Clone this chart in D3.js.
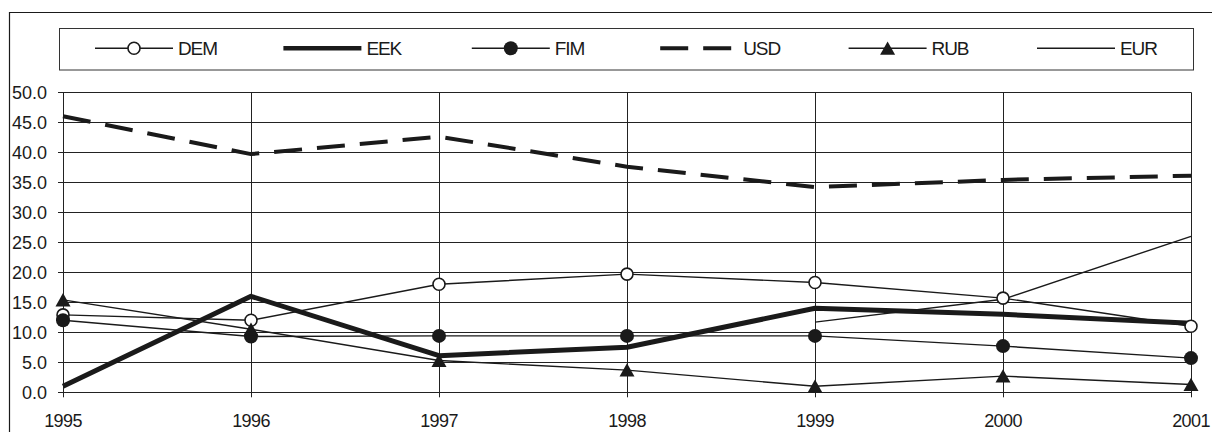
<!DOCTYPE html>
<html>
<head>
<meta charset="utf-8">
<script src="https://cdn.jsdelivr.net/npm/d3@7"></script>
<style>
  html, body { margin: 0; padding: 0; background: #fff; }
  svg { display: block; }
  text { font-family: "Liberation Sans", Arial, sans-serif; fill: #1a1a1a; }
</style>
</head>
<body>
<svg id="chart" width="1212" height="432"></svg>
<script>
// ---- data ----
const years = [1995, 1996, 1997, 1998, 1999, 2000, 2001];
const DEM = [12.9, 12.0, 18.0, 19.7, 18.3, 15.7, 11.0];
const EEK = [1.0, 16.0, 6.1, 7.5, 14.0, 13.0, 11.5];
const FIM = [12.0, 9.3, 9.4, 9.4, 9.4, 7.7, 5.7];
const USD = [46.0, 39.7, 42.6, 37.6, 34.2, 35.4, 36.1];
const RUB = [15.4, 10.5, 5.3, 3.7, 1.0, 2.7, 1.3];
const EUR = [null, null, null, null, 11.7, 15.5, 26.0];
const yTicks = [0, 5, 10, 15, 20, 25, 30, 35, 40, 45, 50];
const seriesNames = ["DEM", "EEK", "FIM", "USD", "RUB", "EUR"];

const seriesValues = { DEM, EEK, FIM, USD, RUB, EUR };
const style = {
  DEM: { width: 1.4, dash: null, marker: "open" },
  EEK: { width: 5, dash: null, marker: null },
  FIM: { width: 1.4, dash: null, marker: "filled" },
  USD: { width: 4, dash: "28,15", marker: null },
  RUB: { width: 1.4, dash: null, marker: "tri" },
  EUR: { width: 1.4, dash: null, marker: null }
};

const ink = "#1a1a1a";
const svg = d3.select("#chart");

// outer frame
svg.append("path").attr("d", "M9.5,432 V12.5 H1212").attr("fill", "none").attr("stroke", ink).attr("stroke-width", 1.2);

const x = d3.scalePoint().domain(years).range([63, 1191]);
const y = d3.scaleLinear().domain([0, 50]).range([392.3, 92.3]);

const g = svg.append("g");

// horizontal gridlines
g.selectAll("line.hg").data(yTicks).join("line")
  .attr("x1", 58).attr("x2", x(2001))
  .attr("y1", d => Math.round(y(d)) + 0.5).attr("y2", d => Math.round(y(d)) + 0.5)
  .attr("stroke", "#222").attr("stroke-width", 1);

// vertical gridlines + ticks
g.selectAll("line.vg").data(years).join("line")
  .attr("x1", d => Math.round(x(d)) + 0.5).attr("x2", d => Math.round(x(d)) + 0.5)
  .attr("y1", y(50)).attr("y2", y(0) + 5)
  .attr("stroke", "#222").attr("stroke-width", 1);

// y labels
g.selectAll("text.yl").data(yTicks).join("text")
  .attr("x", 47).attr("y", d => y(d) + 6.5)
  .attr("text-anchor", "end").attr("font-size", 18)
  .text(d => d3.format(".1f")(d));

// x labels
g.selectAll("text.xl").data(years).join("text")
  .attr("x", d => x(d)).attr("y", 426.5)
  .attr("text-anchor", "middle").attr("font-size", 18).attr("letter-spacing", -0.6)
  .text(d => d);

// lines
const line = d3.line()
  .defined(d => d.v !== null)
  .x(d => x(d.year)).y(d => y(d.v));

seriesNames.forEach(name => {
  const pts = years.map((yr, i) => ({ year: yr, v: seriesValues[name][i] }));
  const st = style[name];
  g.append("path").datum(pts)
    .attr("d", line)
    .attr("fill", "none").attr("stroke", ink)
    .attr("stroke-width", st.width)
    .attr("stroke-linejoin", "round")
    .attr("stroke-dasharray", st.dash);
});

function triPath(cx, cy) {
  return `M${cx},${cy - 6.8} L${cx + 7.5},${cy + 6.5} L${cx - 7.5},${cy + 6.5} Z`;
}
function drawMarker(sel, type, cx, cy) {
  if (type === "open") {
    sel.append("circle").attr("cx", cx).attr("cy", cy).attr("r", 6)
      .attr("fill", "#fff").attr("stroke", ink).attr("stroke-width", 1.6);
  } else if (type === "filled") {
    sel.append("circle").attr("cx", cx).attr("cy", cy).attr("r", 7)
      .attr("fill", ink);
  } else if (type === "tri") {
    sel.append("path").attr("d", triPath(cx, cy)).attr("fill", ink);
  }
}

// markers on top
seriesNames.forEach(name => {
  const st = style[name];
  if (!st.marker) return;
  years.forEach((yr, i) => {
    const v = seriesValues[name][i];
    if (v === null) return;
    drawMarker(g, st.marker, x(yr), y(v));
  });
});

// legend
const lg = svg.append("g");
lg.append("rect").attr("x", 59.5).attr("y", 28.5).attr("width", 1134).attr("height", 41.5)
  .attr("fill", "#fff").attr("stroke", "#333").attr("stroke-width", 1);

const legendX = d3.scalePoint().domain(seriesNames).range([95, 1037]);
const ly = 48.3;
seriesNames.forEach(name => {
  const st = style[name];
  const x0 = legendX(name);
  lg.append("line").attr("x1", x0).attr("x2", x0 + 78).attr("y1", ly).attr("y2", ly)
    .attr("stroke", ink).attr("stroke-width", name === "EEK" ? 4.5 : st.width)
    .attr("stroke-dasharray", st.dash);
  if (st.marker) drawMarker(lg, st.marker, x0 + 39, ly);
  lg.append("text").attr("x", x0 + 83).attr("y", ly + 6.3)
    .attr("font-size", 19).attr("letter-spacing", -1.1)
    .text(name);
});
</script>
</body>
</html>
